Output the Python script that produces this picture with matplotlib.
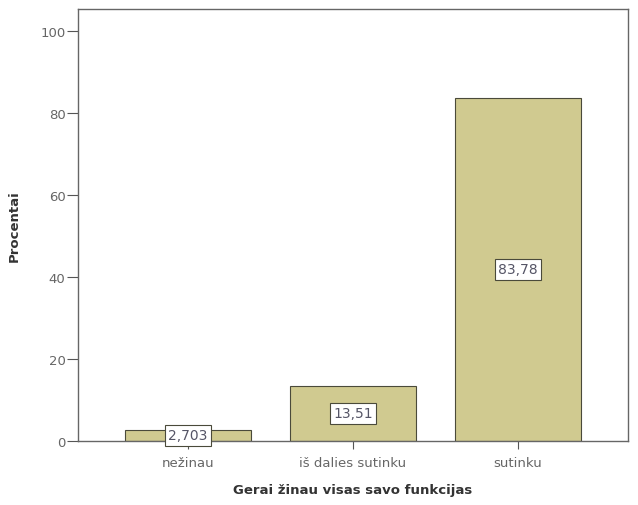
import matplotlib.pyplot as plt
import numpy as np

categories = ['nežinau', 'iš dalies sutinku', 'sutinku']
values = [2.703, 13.51, 83.78]
value_labels = ['2,703', '13,51', '83,78']
y_ticks = [0, 20, 40, 60, 80, 100]

fig = plt.figure(figsize=(6.38, 5.06), dpi=100)
ax = fig.add_axes([0.1223, 0.1265, 0.862, 0.8535])

x = np.arange(len(categories))
ax.bar(x, values, width=0.76, color='#d0ca90', edgecolor='#4a4a3a', linewidth=0.8)

for xi, v, lab in zip(x, values, value_labels):
    ax.text(xi, v / 2, lab, ha='center', va='center', fontsize=10, color='#555566',
            bbox=dict(boxstyle='square,pad=0.25', facecolor='white', edgecolor='#4a4a3a', linewidth=0.8))

ax.set_xlim(-0.667, 2.667)
ax.set_ylim(0, 105.4)
ax.set_xticks(x)
ax.set_xticklabels(categories)
ax.set_yticks(y_ticks)
ax.tick_params(axis='y', colors='#555555', labelsize=9.5, direction='out', length=8, pad=1)
ax.tick_params(axis='x', colors='#555555', labelsize=9.5, direction='out', length=6, pad=5)
ax.tick_params(axis='both', labelcolor='#666666')

for sp in ax.spines.values():
    sp.set_color('#666666')
    sp.set_linewidth(1.0)

ax.set_xlabel('Gerai žinau visas savo funkcijas', fontsize=9.5, fontweight='bold', color='#333333', labelpad=10)
ax.set_ylabel('Procentai', fontsize=9.5, fontweight='bold', color='#333333', labelpad=14)

plt.savefig('out.png', dpi=100)
